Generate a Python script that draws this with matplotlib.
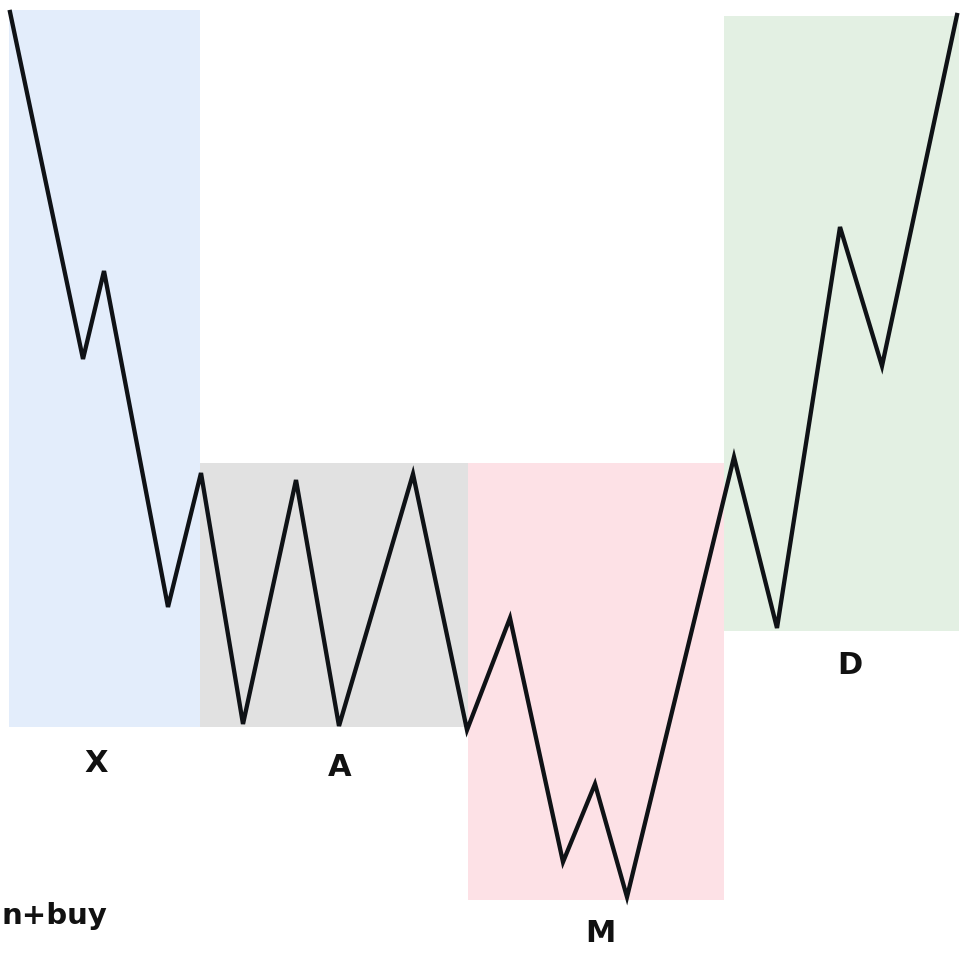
import matplotlib.pyplot as plt
from matplotlib.patches import Rectangle

# zigzag price path (pixel-like units, y grows downward)
px = [10, 83, 104, 168, 201, 243, 296, 339, 413, 467, 510, 563, 595, 627, 734, 777, 840, 882, 957]
py = [12, 359, 271, 607, 473, 724, 480, 726, 474, 730, 618, 862, 784, 897, 457, 628, 227, 366, 15]

# phase boxes: left, top, right, bottom
box_names = ["X", "A", "M", "D"]
box_left = [9, 200, 468, 724]
box_top = [10, 463, 463, 16]
box_right = [200, 468, 724, 959]
box_bottom = [727, 727, 900, 631]
box_colors = ["#e3edfb", "#e1e1e1", "#fde1e6", "#e3f0e3"]

# label positions
lab_x = [96, 340, 600, 850]
lab_y = [764, 767, 934, 666]

fig = plt.figure(figsize=(9.64, 9.56), dpi=100)
ax = fig.add_axes([0, 0, 1, 1])
ax.set_xlim(0, 964)
ax.set_ylim(956, 0)
ax.axis("off")

for l, t, r, b, c in zip(box_left, box_top, box_right, box_bottom, box_colors):
    ax.add_patch(Rectangle((l, t), r - l, b - t, facecolor=c, edgecolor="none", zorder=1))

ax.plot(px, py, color="#0f1216", lw=3.1, solid_joinstyle="miter", zorder=3)

for name, x, y in zip(box_names, lab_x, lab_y):
    ax.text(x, y, name, ha="center", va="center", fontsize=22, fontweight="bold", color="#111111")

# the left label is cropped in the source picture; keep it just inside the edge
ax.text(1, 916, "n+buy", ha="left", va="center", fontsize=21, fontweight="bold", color="#111111")

fig.savefig("out.png", dpi=100)
